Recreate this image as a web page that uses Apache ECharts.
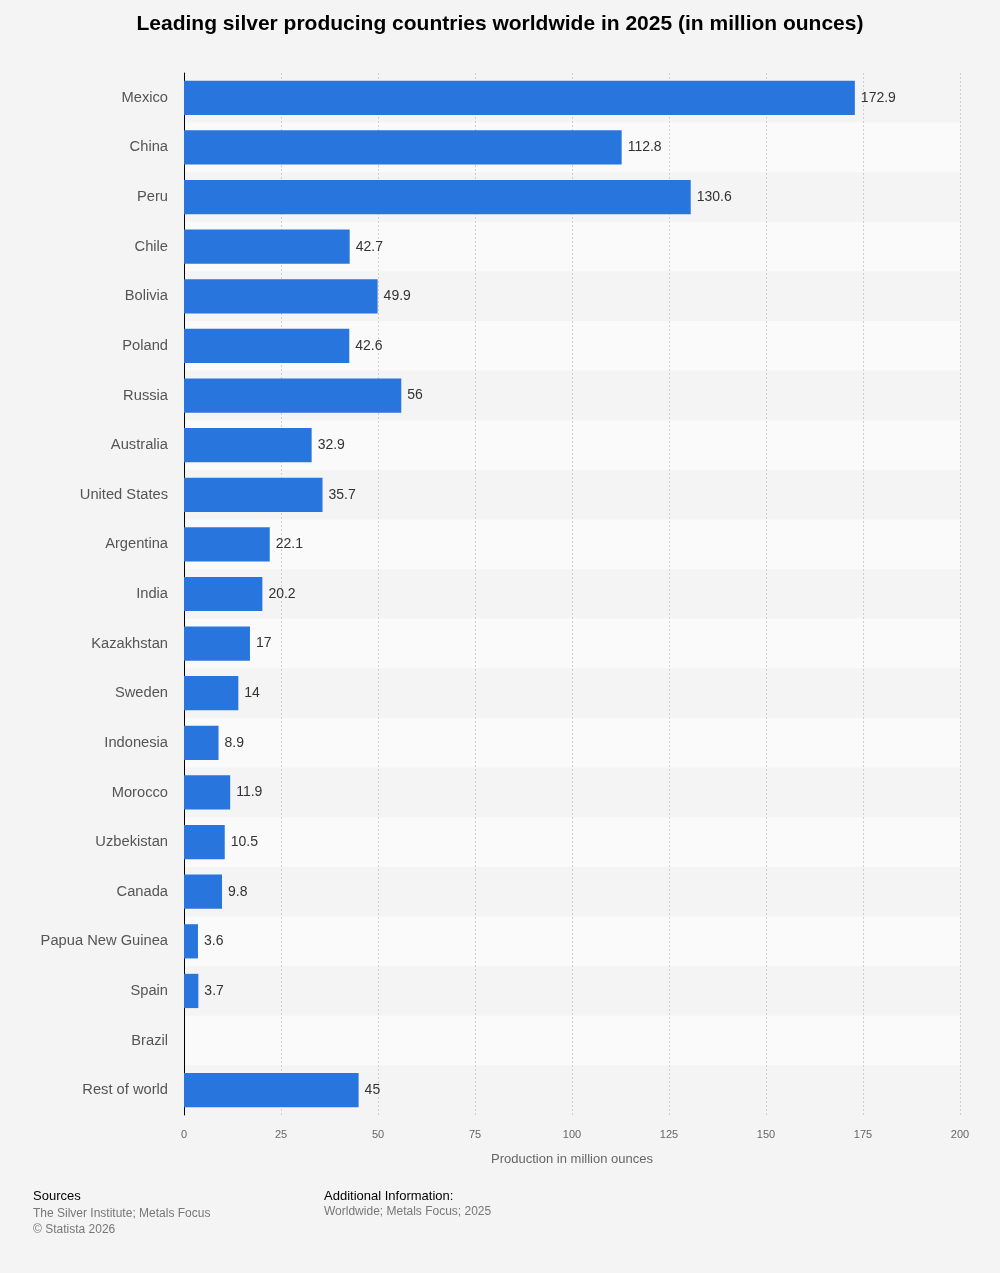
<!DOCTYPE html>
<html><head><meta charset="utf-8">
<script src="https://cdn.jsdelivr.net/npm/echarts@6/dist/echarts.min.js"></script>
<style>html,body{margin:0;padding:0;background:#f4f4f4;}#c{width:1000px;height:1273px;}</style>
</head><body><div id="c"></div>
<script>
const categories = ["Mexico","China","Peru","Chile","Bolivia","Poland","Russia","Australia","United States","Argentina","India","Kazakhstan","Sweden","Indonesia","Morocco","Uzbekistan","Canada","Papua New Guinea","Spain","Brazil","Rest of world"];
const values = [172.9,112.8,130.6,42.7,49.9,42.6,56,32.9,35.7,22.1,20.2,17,14,8.9,11.9,10.5,9.8,3.6,3.7,null,45];
const xTicks = [0,25,50,75,100,125,150,175,200];
const FONT = '"Liberation Sans", Arial, sans-serif';
const chart = echarts.init(document.getElementById('c'));
chart.setOption({
  backgroundColor: '#f4f4f4',
  animation: false,
  textStyle: {fontFamily: FONT},
  title: [
    {text: 'Leading silver producing countries worldwide in 2025 (in million ounces)', left: 'center', top: 14, padding: 0,
     textStyle: {fontSize: 21, fontWeight: 'bold', color: '#000', fontFamily: FONT}},
    {text: 'Sources', left: 33, top: 1190, padding: 0, textStyle: {fontSize: 13, fontWeight: 'normal', color: '#000', fontFamily: FONT}},
    {text: 'The Silver Institute; Metals Focus\n© Statista 2026', left: 33, top: 1206, padding: 0,
     textStyle: {fontSize: 12, fontWeight: 'normal', color: '#777', lineHeight: 16, fontFamily: FONT}},
    {text: 'Additional Information:', left: 324, top: 1190, padding: 0, textStyle: {fontSize: 13, fontWeight: 'normal', color: '#000', fontFamily: FONT}},
    {text: 'Worldwide; Metals Focus; 2025', left: 324, top: 1206, padding: 0,
     textStyle: {fontSize: 12, fontWeight: 'normal', color: '#777', fontFamily: FONT}}
  ],
  grid: {left: 184, right: 40, top: 73, bottom: 158, containLabel: false},
  xAxis: {
    type: 'value', min: xTicks[0], max: xTicks[xTicks.length-1], interval: 25,
    name: 'Production in million ounces', nameLocation: 'middle', nameGap: 38,
    nameTextStyle: {fontSize: 13, color: '#666'},
    axisLine: {show: false}, axisTick: {show: false},
    axisLabel: {fontSize: 11, color: '#666', margin: 14},
    splitLine: {show: true, lineStyle: {color: '#cfcfcf', type: [2, 2], width: 1}}
  },
  yAxis: {
    type: 'category', data: categories, inverse: true,
    axisLine: {show: true, lineStyle: {color: '#000', width: 1}},
    axisTick: {show: false},
    axisLabel: {fontSize: 14.7, color: '#555', margin: 16},
    splitArea: {show: true, areaStyle: {color: ['#f4f4f4', '#fafafa']}}
  },
  series: [{
    type: 'bar', data: values, barCategoryGap: '31%',
    itemStyle: {color: '#2876dd'},
    label: {show: true, position: 'right', distance: 6, fontSize: 14, color: '#333'}
  }]
});
</script></body></html>
